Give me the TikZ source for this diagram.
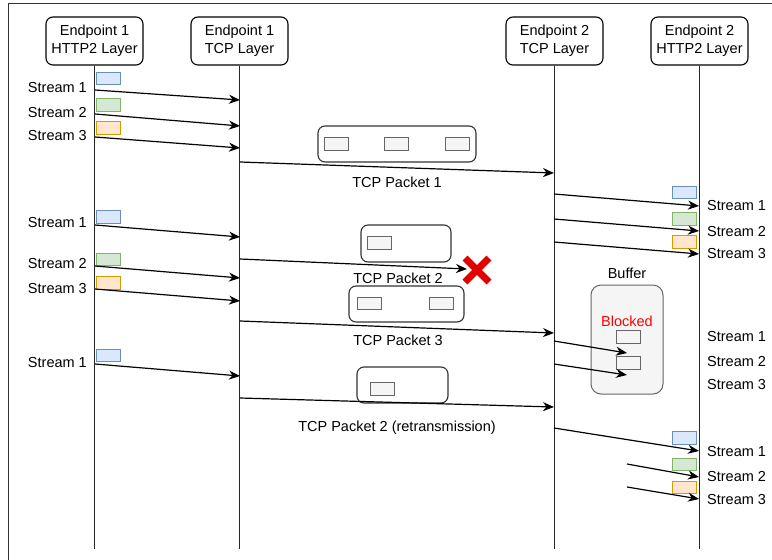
\documentclass[tikz,border=0pt]{standalone}
\usepackage{fontspec}
\setmainfont{Liberation Sans}
\usetikzlibrary{arrows.meta}

\definecolor{blueF}{HTML}{DAE8FC}\definecolor{blueD}{HTML}{6C8EBF}
\definecolor{greenF}{HTML}{D5E8D4}\definecolor{greenD}{HTML}{82B366}
\definecolor{orangeF}{HTML}{FFE6CC}\definecolor{orangeD}{HTML}{D79B00}
\definecolor{grayF}{HTML}{F5F5F5}\definecolor{grayD}{HTML}{666666}
\definecolor{crossred}{HTML}{E00000}

\tikzset{
  header/.style={draw, line width=1.1pt, rounded corners=7pt, minimum width=97pt,
    minimum height=48pt, inner sep=0pt, align=center, font=\fontsize{14.5}{18}\selectfont},
  lifeline/.style={line width=1.1pt, black!85},
  msg/.style={line width=1.2pt, -{Stealth[length=11pt,width=9pt,inset=3.5pt]}},
  lbl/.style={inner sep=0pt, font=\fontsize{14.5}{17}\selectfont},
  seg/.style={draw, line width=1pt, minimum width=24pt, minimum height=12.5pt, inner sep=0pt},
  sblue/.style={seg, draw=blueD, fill=blueF},
  sgreen/.style={seg, draw=greenD, fill=greenF},
  sorange/.style={seg, draw=orangeD, fill=orangeF},
  sgray/.style={seg, draw=grayD, fill=grayF},
  packet/.style={draw=black!80, fill=white, line width=1.1pt, rounded corners=7pt, inner sep=0pt},
}

\begin{document}
\begin{tikzpicture}[x=1pt, y=-1pt]
\useasboundingbox (0,0) rectangle (772,560);

% outer frame (top and left edges)
\draw[line width=1pt, black!80] (8,560) -- (8,3) -- (772,3);

% participants
\node[header] (h1) at (94.5,41) {Endpoint 1\\HTTP2 Layer};
\node[header] (h2) at (239.5,41) {Endpoint 1\\TCP Layer};
\node[header] (h3) at (554.5,41) {Endpoint 2\\TCP Layer};
\node[header] (h4) at (699.5,41) {Endpoint 2\\HTTP2 Layer};

\foreach \h in {h1,h2,h3,h4}
  \draw[lifeline] (\h.south) -- (\h.south |- 0,549);

% packet containers
\node[packet, minimum width=158pt, minimum height=36pt] (pk1) at (397,144) {};
\node[packet, minimum width=90pt, minimum height=37pt] (pk2) at (406,243.5) {};
\node[packet, minimum width=115pt, minimum height=36pt] (pk3) at (406.5,304) {};
\node[packet, minimum width=91pt, minimum height=36pt] (pk4) at (402.5,385) {};

% receive buffer
\node[draw=grayD, fill=grayF, line width=1pt, rounded corners=10pt,
      minimum width=72pt, minimum height=109pt, inner sep=0pt] (buf) at (627,339.5) {};
\node[lbl] (buflbl) at (627,273) {Buffer};
\node[lbl, text=red] (blocked) at (627,321) {Blocked};

% frames inside packets and buffer
\node[sgray] (g11) at (336.5,144) {};
\node[sgray] (g12) at (396.5,144) {};
\node[sgray] (g13) at (457.5,144) {};
\node[sgray] (g21) at (379.5,243) {};
\node[sgray] (g31) at (369.5,303.5) {};
\node[sgray] (g32) at (441.5,303.5) {};
\node[sgray] (g41) at (382.5,389) {};
\node[sgray] (b1) at (628,337) {};
\node[sgray] (b2) at (628,363) {};

% stream frames, sender side
\node[sblue]   (l1) at (108.5,78.5) {};
\node[sgreen]  (l2) at (108.5,105) {};
\node[sorange] (l3) at (108.5,128) {};
\node[sblue]   (l4) at (108.5,217) {};
\node[sgreen]  (l5) at (108.5,259.5) {};
\node[sorange] (l6) at (108.5,283) {};
\node[sblue]   (l7) at (108.5,355.5) {};

% stream frames, receiver side
\node[sblue]   (r1) at (684.5,192.5) {};
\node[sgreen]  (r2) at (684.5,219) {};
\node[sorange] (r3) at (684.5,242) {};
\node[sblue]   (r4) at (684.5,438) {};
\node[sgreen]  (r5) at (684.5,464.5) {};
\node[sorange] (r6) at (684.5,487.5) {};

% sender stream labels
\node[lbl, anchor=east] (ls1) at (87,88) {Stream 1};
\node[lbl, anchor=east] (ls2) at (87,113) {Stream 2};
\node[lbl, anchor=east] (ls3) at (87,136) {Stream 3};
\node[lbl, anchor=east] (ls4) at (87,223) {Stream 1};
\node[lbl, anchor=east] (ls5) at (87,264) {Stream 2};
\node[lbl, anchor=east] (ls6) at (87,289) {Stream 3};
\node[lbl, anchor=east] (ls7) at (87,363) {Stream 1};

% receiver stream labels
\node[lbl, anchor=west] (rs1) at (707,206) {Stream 1};
\node[lbl, anchor=west] (rs2) at (707,232) {Stream 2};
\node[lbl, anchor=west] (rs3) at (707,254) {Stream 3};
\node[lbl, anchor=west] (rs4) at (707,337) {Stream 1};
\node[lbl, anchor=west] (rs5) at (707,362) {Stream 2};
\node[lbl, anchor=west] (rs6) at (707,385) {Stream 3};
\node[lbl, anchor=west] (rs7) at (707,452) {Stream 1};
\node[lbl, anchor=west] (rs8) at (707,477) {Stream 2};
\node[lbl, anchor=west] (rs9) at (707,500) {Stream 3};

% packet labels
\node[lbl] (t1) at (397,182) {TCP Packet 1};
\node[lbl] (t2) at (398,278) {TCP Packet 2};
\node[lbl] (t3) at (398,340) {TCP Packet 3};
\node[lbl] (t4) at (397,428) {TCP Packet 2 (retransmission)};

% message end points on the lifelines
\coordinate (a1) at (95,90);   \coordinate (b1e) at (240,100);
\coordinate (a2) at (95,114);  \coordinate (b2e) at (240,126);
\coordinate (a3) at (95,137);  \coordinate (b3e) at (240,148);
\coordinate (a4) at (95,225);  \coordinate (b4e) at (240,237);
\coordinate (a5) at (95,266);  \coordinate (b5e) at (240,278);
\coordinate (a6) at (95,289);  \coordinate (b6e) at (240,301);
\coordinate (a7) at (95,364);  \coordinate (b7e) at (240,376);

\coordinate (p1a) at (240,162); \coordinate (p1b) at (554,173);
\coordinate (p2a) at (240,259); \coordinate (lost) at (467,269);
\coordinate (p3a) at (240,321); \coordinate (p3b) at (554,333);
\coordinate (p4a) at (240,398); \coordinate (p4b) at (554,407);

\coordinate (c1) at (554,194); \coordinate (d1) at (699,206);
\coordinate (c2) at (554,219); \coordinate (d2) at (699,231);
\coordinate (c3) at (554,242); \coordinate (d3) at (699,254);
\coordinate (c4) at (554,341); \coordinate (d4) at (627,353);
\coordinate (c5) at (554,364); \coordinate (d5) at (627,375);
\coordinate (c6) at (554,428); \coordinate (d6) at (699,451);
\coordinate (c7) at (627,464); \coordinate (d7) at (699,477);
\coordinate (c8) at (627,487); \coordinate (d8) at (699,499);

% HTTP2 frames handed to TCP
\draw[msg] (a1) -- (b1e);
\draw[msg] (a2) -- (b2e);
\draw[msg] (a3) -- (b3e);
\draw[msg] (a4) -- (b4e);
\draw[msg] (a5) -- (b5e);
\draw[msg] (a6) -- (b6e);
\draw[msg] (a7) -- (b7e);

% TCP packets on the wire
\draw[msg] (p1a) -- (p1b);
\draw[msg] (p2a) -- (lost);
\draw[msg] (p3a) -- (p3b);
\draw[msg] (p4a) -- (p4b);

% delivery to HTTP2 / buffering
\draw[msg] (c1) -- (d1);
\draw[msg] (c2) -- (d2);
\draw[msg] (c3) -- (d3);
\draw[msg] (c4) -- (d4);
\draw[msg] (c5) -- (d5);
\draw[msg] (c6) -- (d6);
\draw[msg] (c7) -- (d7);
\draw[msg] (c8) -- (d8);

% lost packet mark
\coordinate (xc) at (477,270);
\draw[crossred, line width=7pt] ([shift={(-12,-12)}]xc) -- ([shift={(12,12)}]xc)
                                ([shift={(12,-12)}]xc) -- ([shift={(-12,12)}]xc);
\end{tikzpicture}
\end{document}
